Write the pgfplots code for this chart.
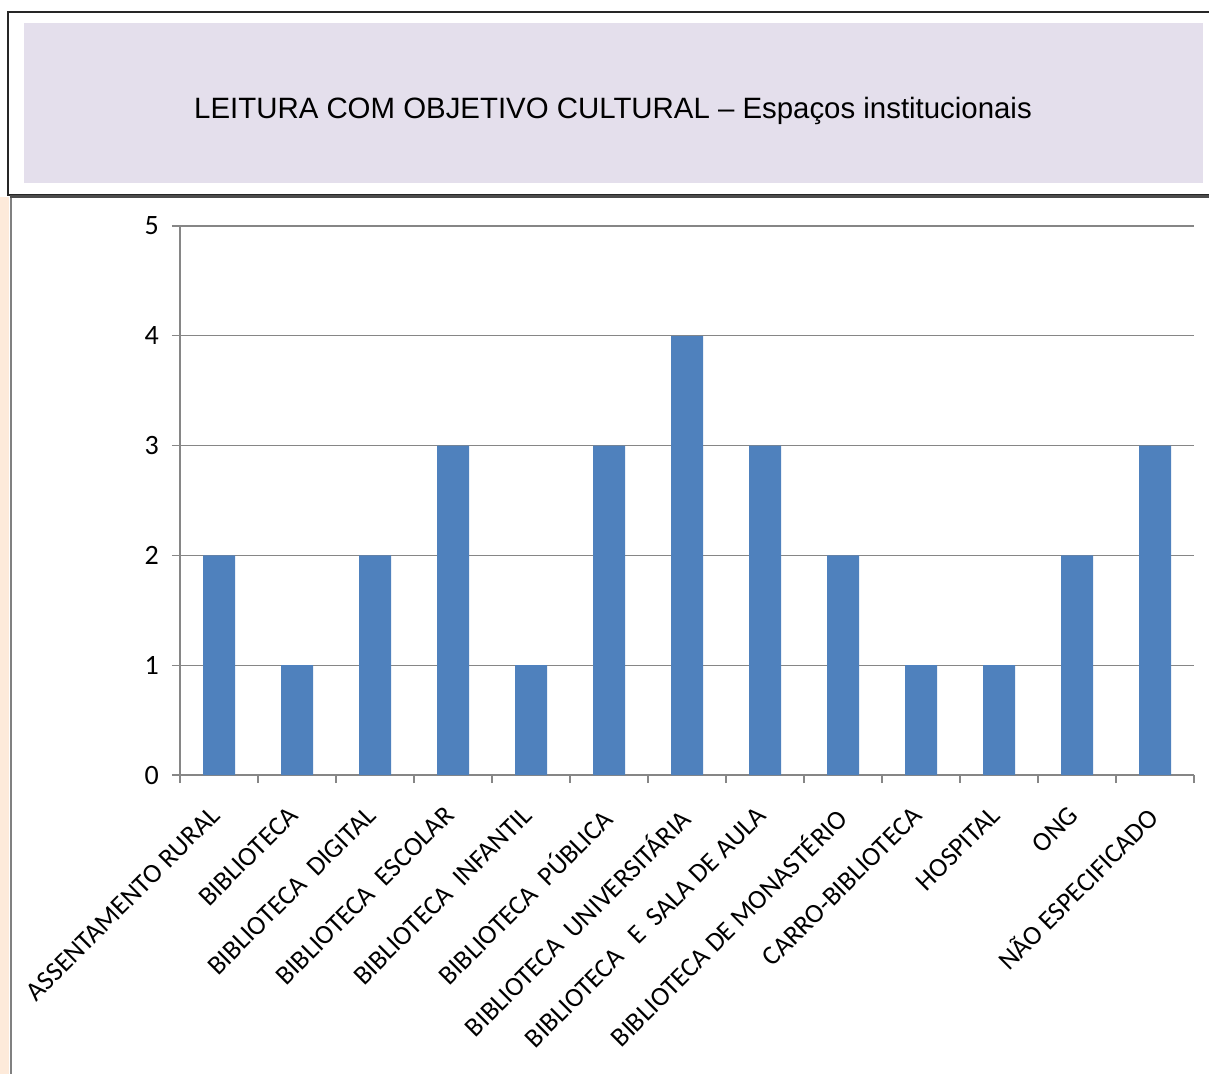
\documentclass[border=0pt]{standalone}
\usepackage{pgfplots}
\pgfplotsset{compat=1.18}
\usepackage{fontspec}
\setmainfont{Carlito}
\newfontfamily\arial{Liberation Sans}
\definecolor{barblue}{HTML}{4F81BD}
\definecolor{lav}{HTML}{E4DFEC}
\definecolor{peach}{HTML}{FDEADA}
\definecolor{gridgray}{HTML}{868686}
\begin{document}
\begin{tikzpicture}
\begin{scope}[x=0.5pt,y=-0.5pt]
% title box
\draw[black!85, line width=1pt] (8,12) rectangle (1215,195);
\fill[lav] (24,23) rectangle (1203,183);
\node[font=\arial\fontsize{14.7}{18}\selectfont] at (613,111) {LEITURA COM OBJETIVO CULTURAL – Espaços institucionais};
% chart frame
\fill[peach] (0,197) rectangle (9,1080);
\draw[gray, line width=1pt] (10.5,197) -- (10.5,1080);
\draw[black!70, line width=1.2pt] (10,196.5) -- (1215,196.5);
\end{scope}
\begin{axis}[
  at={(90pt,-387.5pt)}, anchor=south west,
  scale only axis, width=507pt, height=274.5pt,
  xmin=-0.5, xmax=12.5, ymin=0, ymax=5,
  axis x line*=bottom, axis y line*=left,
  axis line style={gridgray, line width=0.6pt},
  ytick={0,1,2,3,4,5},
  ymajorgrids, grid style={gridgray, line width=0.6pt},
  tick align=outside,
  major tick length=4pt,
  tick style={gridgray, line width=0.6pt},
  xtick={0,...,12},
  x tick style={draw=none},
  minor xtick={-0.5,0.5,...,12.5},
  minor tick length=4pt,
  xminorgrids=false,
  minor x tick style={gridgray, line width=0.6pt, draw=gridgray},
  xticklabels={ASSENTAMENTO RURAL, BIBLIOTECA, BIBLIOTECA\ \ DIGITAL, BIBLIOTECA\ \ ESCOLAR, BIBLIOTECA\ \ INFANTIL, BIBLIOTECA\ \ PÚBLICA, BIBLIOTECA\ \ UNIVERSITÁRIA, BIBLIOTECA\ \ \ E\ \ SALA DE AULA, BIBLIOTECA DE MONASTÉRIO, CARRO-BIBLIOTECA, HOSPITAL, ONG, NÃO ESPECIFICADO},
  xticklabel style={xshift=-5pt, yshift=-6pt, rotate=45, anchor=north east, font=\fontsize{13.5}{15}\selectfont},
  yticklabel style={font=\fontsize{14}{15}\selectfont, xshift=-3pt},
  /pgf/number format/assume math mode=true,
  ybar, bar width=16pt,
]
\addplot[fill=barblue, draw=none] coordinates {(0,2) (1,1) (2,2) (3,3) (4,1) (5,3) (6,4) (7,3) (8,2) (9,1) (10,1) (11,2) (12,3)};
\end{axis}
\pgfresetboundingbox
\path[use as bounding box] (0,0) rectangle (604.5pt,-536.5pt);
\end{tikzpicture}
\end{document}
